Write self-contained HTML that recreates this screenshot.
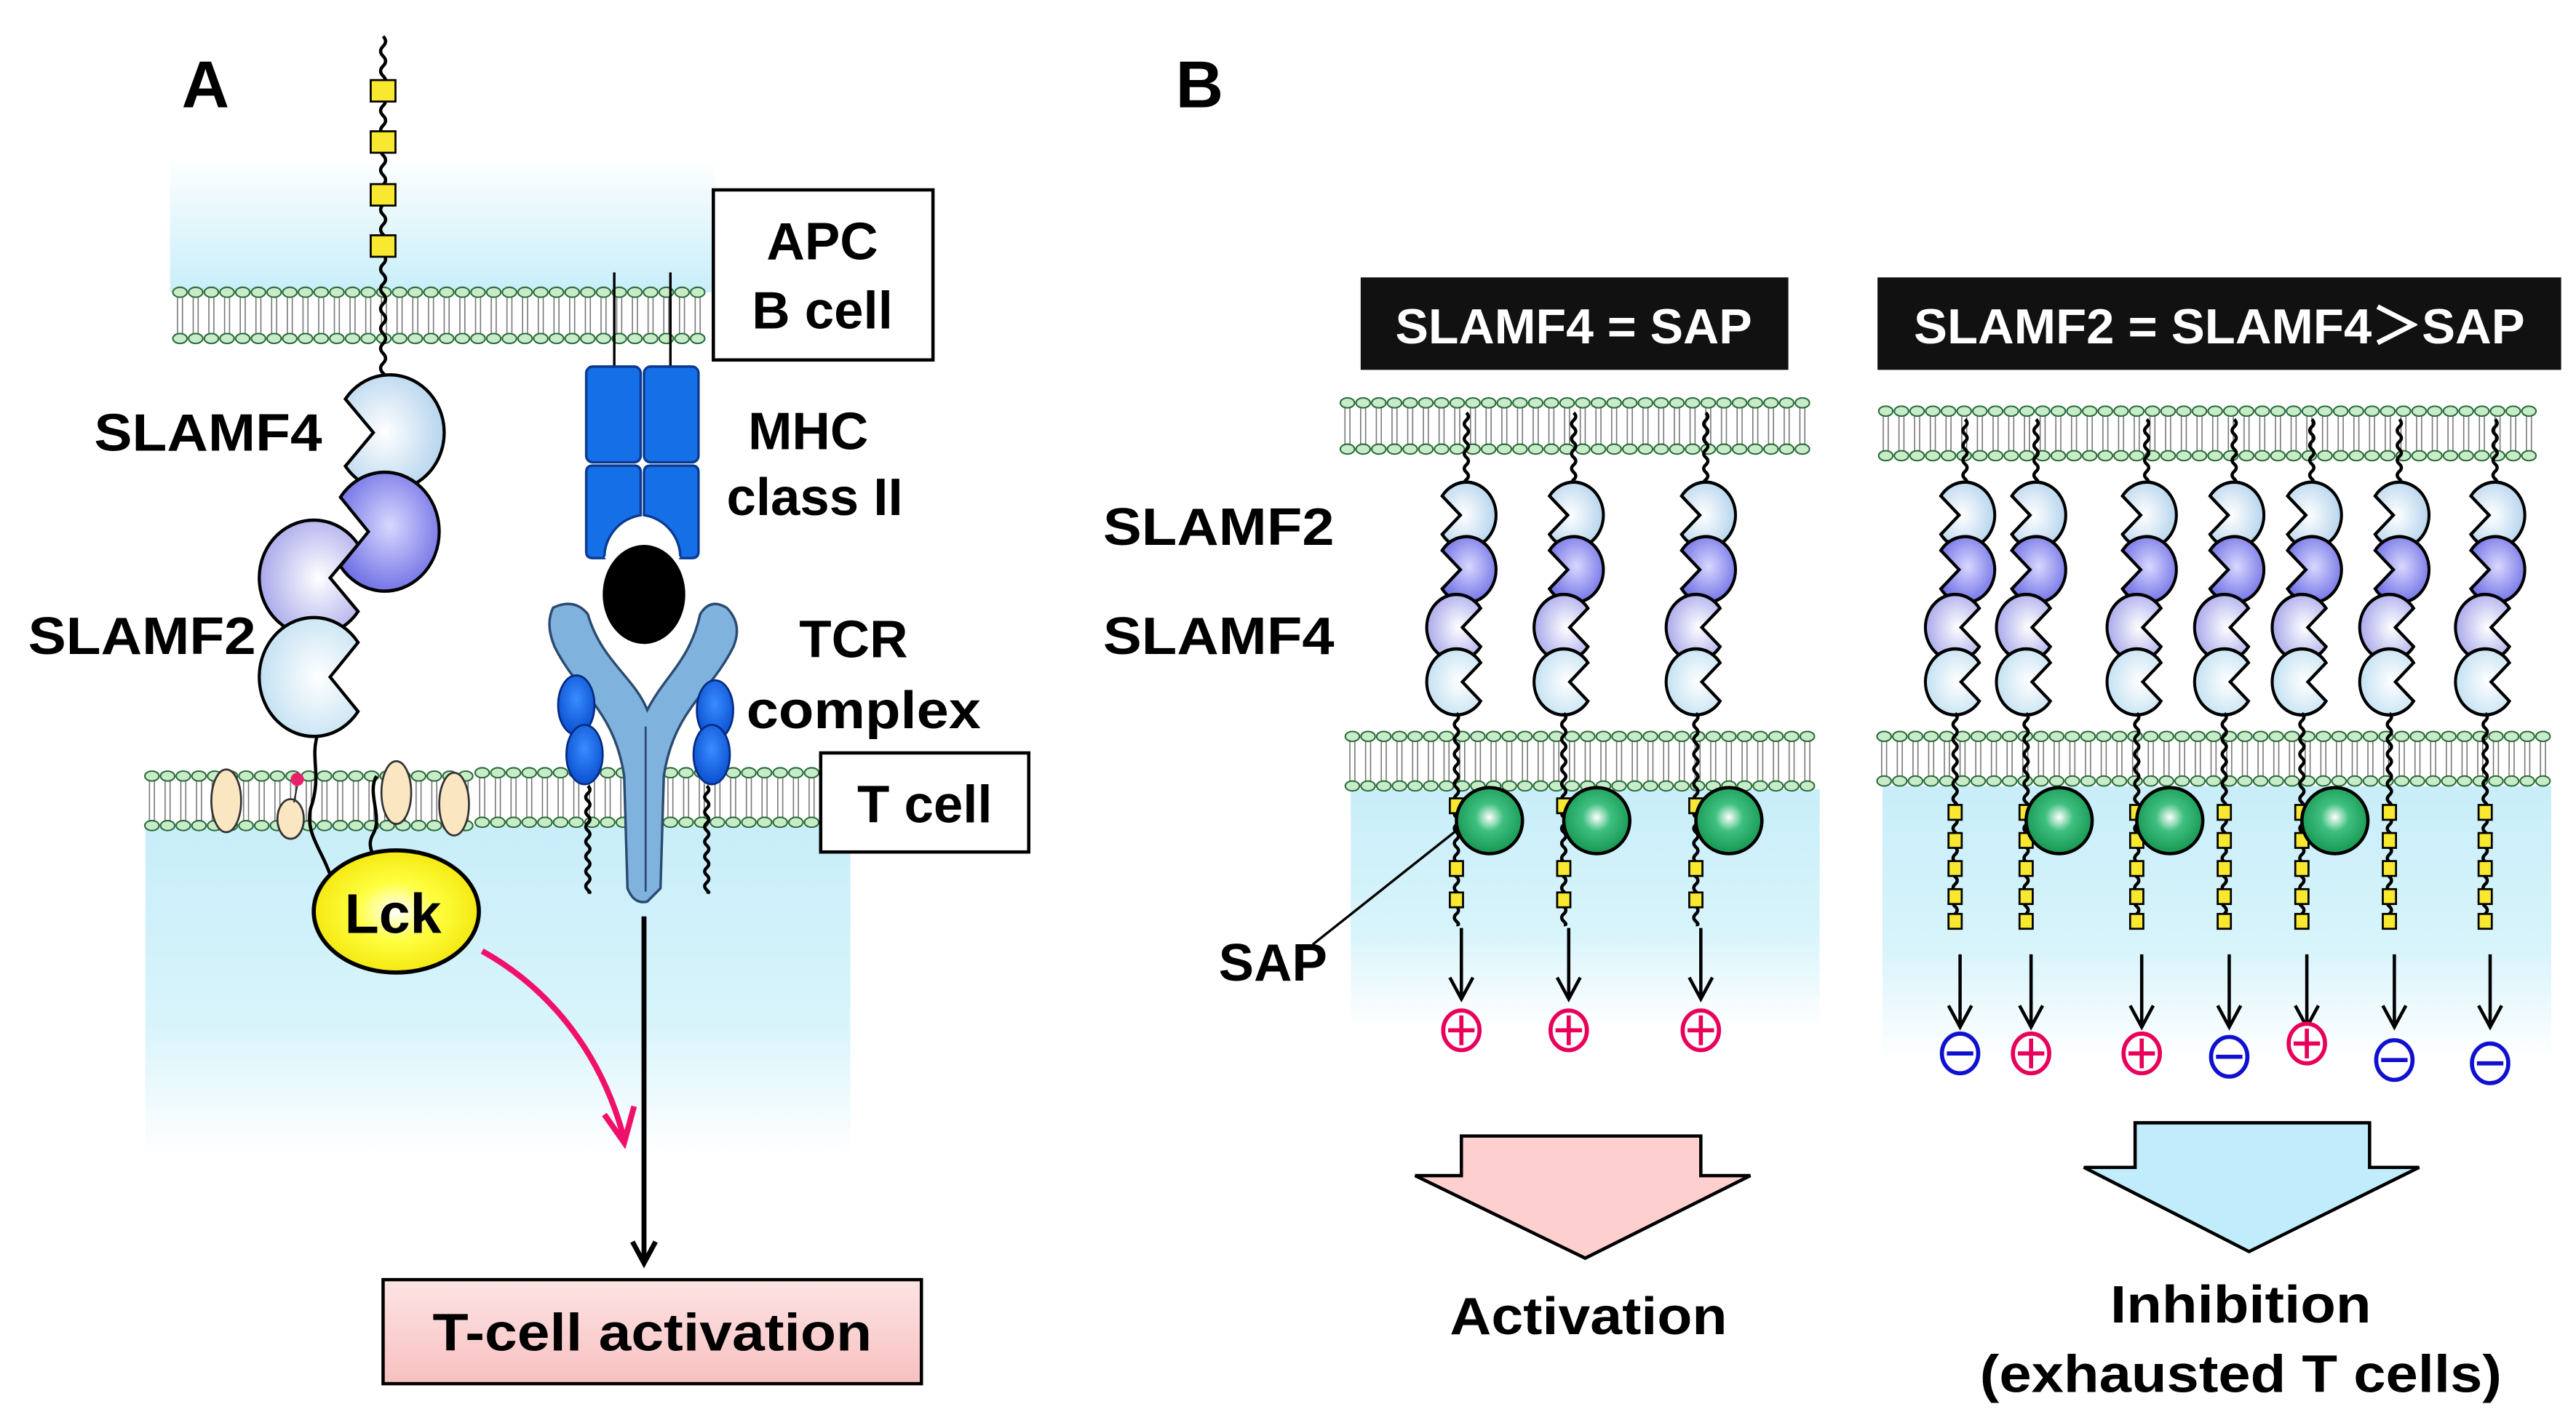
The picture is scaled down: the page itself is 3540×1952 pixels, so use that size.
<!DOCTYPE html>
<html><head><meta charset="utf-8"><style>
html,body{margin:0;padding:0;background:#fff}
svg{display:block}
text{font-family:"Liberation Sans",Arial,sans-serif;font-weight:bold}
</style></head><body>
<svg id="s" width="3540" height="1952" viewBox="0 0 1560 860" preserveAspectRatio="none" xmlns="http://www.w3.org/2000/svg">
<defs>
<linearGradient id="bu" x1="0" y1="0" x2="0" y2="1"><stop offset="0" stop-color="#fff"/><stop offset="1" stop-color="#c8eef9"/></linearGradient>
<linearGradient id="bd" x1="0" y1="0" x2="0" y2="1"><stop offset="0" stop-color="#c8eef9"/><stop offset="0.6" stop-color="#d8f4fb"/><stop offset="1" stop-color="#fff"/></linearGradient>
<radialGradient id="lb" cx="0.6" cy="0.5" r="0.7"><stop offset="0" stop-color="#fff"/><stop offset="1" stop-color="#a9cdea"/></radialGradient>
<radialGradient id="lb2" cx="0.6" cy="0.5" r="0.7"><stop offset="0" stop-color="#fff"/><stop offset="1" stop-color="#b9dcf0"/></radialGradient>
<radialGradient id="pu" cx="0.5" cy="0.45" r="0.7"><stop offset="0" stop-color="#d8d8ff"/><stop offset="1" stop-color="#5a5ae0"/></radialGradient>
<radialGradient id="lv" cx="0.6" cy="0.5" r="0.7"><stop offset="0" stop-color="#fff"/><stop offset="1" stop-color="#9a9ae8"/></radialGradient>
<radialGradient id="gr" cx="0.5" cy="0.45" r="0.6"><stop offset="0" stop-color="#fff"/><stop offset="0.35" stop-color="#40c080"/><stop offset="1" stop-color="#10904a"/></radialGradient>
<radialGradient id="ye" cx="0.5" cy="0.5" r="0.6"><stop offset="0" stop-color="#fff"/><stop offset="0.4" stop-color="#ffff40"/><stop offset="1" stop-color="#f0e000"/></radialGradient>
<linearGradient id="pk" x1="0" y1="0" x2="0" y2="1"><stop offset="0" stop-color="#fde4e4"/><stop offset="1" stop-color="#f8c0c0"/></linearGradient>
<radialGradient id="db" cx="0.5" cy="0.4" r="0.6"><stop offset="0" stop-color="#3a8cff"/><stop offset="1" stop-color="#0a50d0"/></radialGradient>
</defs>
<g id="bg">
<rect x="103" y="95" width="330" height="82" fill="url(#bu)"/>
<rect x="88" y="500" width="427" height="200" fill="url(#bd)"/>
<rect x="818" y="478" width="284" height="145" fill="url(#bd)"/>
<rect x="1140" y="476" width="405" height="165" fill="url(#bd)"/>
</g>
<g id="mem"></g>
<g id="shapes"></g>
<!-- Panel A static -->
<text x="110" y="65" font-size="40">A</text>
<text x="712" y="65" font-size="40">B</text>
<rect x="432" y="115" width="133" height="103" fill="#fff" stroke="#000" stroke-width="2"/>
<text x="498" y="157" font-size="32" text-anchor="middle">APC</text>
<text x="498" y="199" font-size="32" text-anchor="middle">B cell</text>
<text x="57" y="273" font-size="32" textLength="138" lengthAdjust="spacingAndGlyphs">SLAMF4</text>
<text x="17" y="396" font-size="32" textLength="138" lengthAdjust="spacingAndGlyphs">SLAMF2</text>
<text x="453" y="272" font-size="32">MHC</text>
<text x="440" y="312" font-size="32">class II</text>
<text x="484" y="398" font-size="32">TCR</text>
<text x="452" y="441" font-size="32" textLength="142" lengthAdjust="spacingAndGlyphs">complex</text>
<rect x="497" y="456" width="126" height="60" fill="#fff" stroke="#000" stroke-width="2"/>
<text x="560" y="498" font-size="32" text-anchor="middle">T cell</text>
<rect x="232" y="775" width="326" height="63" fill="url(#pk)" stroke="#000" stroke-width="2"/>
<text x="395" y="818" font-size="32" text-anchor="middle" textLength="266" lengthAdjust="spacingAndGlyphs">T-cell activation</text>
<!-- Panel B static -->
<rect x="824" y="168" width="259" height="56" fill="#111"/>
<text x="953" y="208" font-size="30" fill="#fff" text-anchor="middle" textLength="216" lengthAdjust="spacingAndGlyphs">SLAMF4 = SAP</text>
<rect x="1137" y="168" width="414" height="56" fill="#111"/>
<text x="1344" y="208" font-size="30" fill="#fff" text-anchor="middle" textLength="370" lengthAdjust="spacingAndGlyphs">SLAMF2 = SLAMF4＞SAP</text>
<text x="668" y="330" font-size="32" textLength="140" lengthAdjust="spacingAndGlyphs">SLAMF2</text>
<text x="668" y="396" font-size="32" textLength="140" lengthAdjust="spacingAndGlyphs">SLAMF4</text>
<text x="738" y="594" font-size="32">SAP</text>
<line x1="795" y1="572" x2="882" y2="503" stroke="#000" stroke-width="1.5"/>
<path d="M885,688 H1030 V712 H1060 L960,762 L857,712 H885 Z" fill="#fdcfcf" stroke="#000" stroke-width="2"/>
<path d="M1293,680 H1435 V707 H1465 L1362,758 L1262,707 H1293 Z" fill="#c0ecfb" stroke="#000" stroke-width="2"/>
<text x="962" y="808" font-size="32" text-anchor="middle" textLength="168" lengthAdjust="spacingAndGlyphs">Activation</text>
<text x="1357" y="801" font-size="32" text-anchor="middle" textLength="158" lengthAdjust="spacingAndGlyphs">Inhibition</text>
<text x="1357" y="843" font-size="32" text-anchor="middle" textLength="316" lengthAdjust="spacingAndGlyphs">(exhausted T cells)</text>
</svg>
<script>
const NS="http://www.w3.org/2000/svg";
const mem=document.getElementById('mem'), sh=document.getElementById('shapes');
function el(p,tag,a){const e=document.createElementNS(NS,tag);for(const k in a)e.setAttribute(k,a[k]);p.appendChild(e);return e;}
function membrane(x1,x2,yt,yb){
  let d="";
  for(let x=x1+4;x<=x2-3;x+=9.5){d+=`M${x-1.5},${yt+3}V${yb-3}M${x+1.5},${yt+3}V${yb-3}`;}
  el(mem,'path',{d:d,stroke:'#777',"stroke-width":0.7,fill:'none'});
  for(let x=x1+4;x<=x2-3;x+=9.5){
    el(mem,'ellipse',{cx:x,cy:yt,rx:4.3,ry:3,fill:'#c8ecc8',stroke:'#2a6a3a',"stroke-width":0.9});
    el(mem,'ellipse',{cx:x,cy:yb,rx:4.3,ry:3,fill:'#c8ecc8',stroke:'#2a6a3a',"stroke-width":0.9});
  }
}
function wavy(x,y1,y2,amp,per){amp=amp||2.5;per=per||10;let d=`M${x},${y1}`;let s=1;
  for(let y=y1;y<y2;y+=per/2){d+=` Q${x+amp*s},${y+per/4} ${x},${Math.min(y+per/2,y2)}`;s=-s;}
  el(sh,'path',{d:d,stroke:'#000',"stroke-width":2,fill:'none'});}
function pac(cx,cy,rx,ry,fill,dir,depth){
  const a=0.62, c=Math.cos(a), s=Math.sin(a); depth=depth||0.15;
  const d=`M${c},${-s} L${depth},0 L${c},${s} A1 1 0 1 1 ${c},${-s} Z`;
  el(sh,'path',{d:d,fill:fill,stroke:'#000',"stroke-width":2/Math.max(rx,ry),
    transform:`translate(${cx},${cy}) scale(${dir*rx},${ry})`});
}
function sq(x,y,w,h){el(sh,'rect',{x:x-w/2,y:y-h/2,width:w,height:h,fill:'#f8e830',stroke:'#000',"stroke-width":1.2});}
function sym(x,y,plus){const c=plus?'#e8005a':'#1010d0';
  el(sh,'ellipse',{cx:x,cy:y,rx:11,ry:12,fill:'#fff',stroke:c,"stroke-width":2.5});
  el(sh,'line',{x1:x-8,y1:y,x2:x+8,y2:y,stroke:c,"stroke-width":2.5});
  if(plus)el(sh,'line',{x1:x,y1:y-9,x2:x,y2:y+9,stroke:c,"stroke-width":2.5});}
function arrow(x,y1,y2,w){w=w||2;el(sh,'line',{x1:x,y1:y1,x2:x,y2:y2,stroke:'#000',"stroke-width":w});
  el(sh,'path',{d:`M${x-7},${y2-13} L${x},${y2} L${x+7},${y2-13}`,stroke:'#000',"stroke-width":w,fill:'none'});}

membrane(105,432,177,205);
membrane(88,285,470,500);
membrane(288,495,468,498);
membrane(812,1100,244,272);
membrane(1138,1543,249,276);
membrane(815,1102,446,476);
membrane(1137,1545,446,473);

wavy(232,22,232,3,12);
[55,86,118,149].forEach(y=>sq(232,y,15,13));
pac(236,262,33,35,'url(#lb)',-1,0.3);
pac(233,322,33,36,'url(#pu)',-1,0.3);
pac(190,350,33,35,'url(#lv)',1,0.3);
pac(190,410,33,36,'url(#lb2)',1,0.3);
el(sh,'path',{d:'M192,446 C188,460 195,470 188,490 C185,505 195,515 200,530',stroke:'#000',"stroke-width":2,fill:'none'});
el(sh,'path',{d:'M228,470 C222,480 232,495 226,505 C222,512 226,516 226,520',stroke:'#000',"stroke-width":2,fill:'none'});
[[137,485],[240,480],[275,487]].forEach(p=>el(sh,'ellipse',{cx:p[0],cy:p[1],rx:9,ry:19,fill:'#fbe6c2',stroke:'#333',"stroke-width":1.2}));
el(sh,'ellipse',{cx:176,cy:496,rx:8,ry:12,fill:'#fbe6c2',stroke:'#333',"stroke-width":1.2});
el(sh,'circle',{cx:180,cy:472,r:4,fill:'#e8206a'});
el(sh,'line',{x1:180,y1:476,x2:178,y2:486,stroke:'#333',"stroke-width":1});
el(sh,'ellipse',{cx:240,cy:552,rx:50,ry:37,fill:'url(#ye)',stroke:'#000',"stroke-width":2.5});
el(sh,'line',{x1:372,y1:165,x2:372,y2:222,stroke:'#000',"stroke-width":1.5});
el(sh,'line',{x1:406,y1:165,x2:406,y2:222,stroke:'#000',"stroke-width":1.5});
el(sh,'rect',{x:355,y:222,width:33,height:58,rx:4,fill:'#1570e8',stroke:'#0a3a90',"stroke-width":1.5});
el(sh,'rect',{x:390,y:222,width:33,height:58,rx:4,fill:'#1570e8',stroke:'#0a3a90',"stroke-width":1.5});
el(sh,'path',{d:'M355,286 Q355,282 359,282 H384 Q388,282 388,286 V312 A26,26 0 0 0 366,338 H359 Q355,338 355,334 Z',fill:'#1570e8',stroke:'#0a3a90',"stroke-width":1.5});
el(sh,'path',{d:'M423,286 Q423,282 419,282 H394 Q390,282 390,286 V312 A26,26 0 0 1 412,338 H419 Q423,338 423,334 Z',fill:'#1570e8',stroke:'#0a3a90',"stroke-width":1.5});
el(sh,'path',{d:'M366,338 A26,26 0 0 1 412,338 Z',fill:'#fff'});
el(sh,'ellipse',{cx:390,cy:360,rx:25,ry:30,fill:'#000'});
el(sh,'path',{d:'M335,368 Q330,378 336,392 C350,420 372,430 378,470 L380,538 Q384,548 392,546 L400,538 L402,470 C408,430 430,420 444,392 Q450,378 440,368 Q430,362 424,372 C418,400 402,410 392,430 C384,410 364,400 356,372 Q348,362 335,368 Z',fill:'#7fb2dc',stroke:'#2a4a70',"stroke-width":1.5});
el(sh,'line',{x1:391,y1:440,x2:391,y2:540,stroke:'#2a4a70',"stroke-width":1.2});
[[349,427,11,18],[354,457,11,18],[433,430,11,18],[431,457,11,18]].forEach(e=>el(sh,'ellipse',{cx:e[0],cy:e[1],rx:e[2],ry:e[3],fill:'url(#db)',stroke:'#052a80',"stroke-width":1.2}));
wavy(356,476,540,2.5,9); wavy(428,476,540,2.5,9);
arrow(390,555,765,3);
el(sh,'path',{d:'M292,576 C335,600 365,640 378,690',stroke:'#f0106a',"stroke-width":3.5,fill:'none'});
el(sh,'path',{d:'M366,675 L378,692 L384,670',stroke:'#f0106a',"stroke-width":3.5,fill:'none'});

function chain(c,ytop,green,sqs,a1,a2,sy,plus){
  wavy(c+3,ytop,296,2.5,9);
  pac(c+3,312,18,20,'url(#lb)',-1,0.2);
  pac(c+3,345,18,20,'url(#pu)',-1,0.2);
  pac(c-3,380,18,20,'url(#lv)',1,0.2);
  pac(c-3,413,18,20,'url(#lb2)',1,0.2);
  wavy(c-3,432,560,2.5,9);
  sqs.forEach(y=>sq(c-3,y,8,9));
  if(green)el(sh,'circle',{cx:c+17,cy:497,r:20,fill:'url(#gr)',stroke:'#000',"stroke-width":2});
  arrow(c,a1,a2);
  sym(c,sy,plus);
}
[[885],[950],[1030]].forEach(p=>chain(p[0],250,true,[488,526,545],562,605,624,true));
const R=[[1187,false,false],[1230,true,true],[1297,true,true],[1350,false,false],[1397,true,true],[1450,false,false],[1508,false,false]];
R.forEach((p,i)=>chain(p[0],254,p[1],[492,509,526,543,558],578,622,[638,638,638,640,632,642,644][i],p[2]));
</script>
<svg width="3540" height="1952" viewBox="0 0 1560 860" preserveAspectRatio="none" xmlns="http://www.w3.org/2000/svg" style="position:absolute;left:0;top:0">
<text x="238" y="565" font-size="34" text-anchor="middle" font-family="Liberation Sans, sans-serif" font-weight="bold">Lck</text>
</svg>
</body></html>
